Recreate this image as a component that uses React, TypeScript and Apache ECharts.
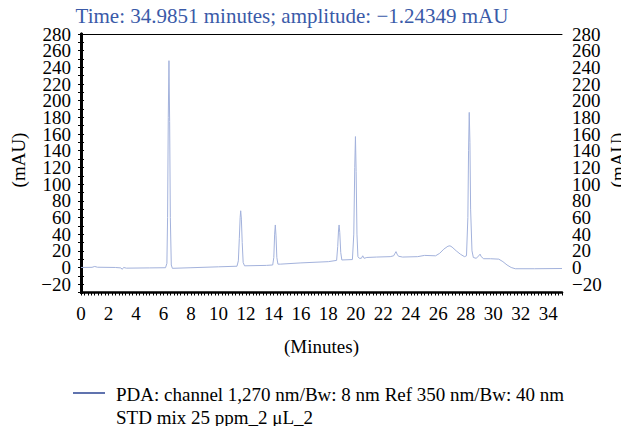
import React, { useEffect, useRef } from "react";
import * as echarts from "echarts";

const titleText = "Time: 34.9851 minutes; amplitude: \u22121.24349 mAU";
const xName = "(Minutes)";
const yName = "(mAU)";
const legendLine1 = "PDA: channel 1,270 nm/Bw: 8 nm Ref 350 nm/Bw: 40 nm";
const legendLine2 = "STD mix 25 ppm_2 \u03bcL_2";

// retention time (minutes)
const times = [
  0, 0.8, 1.0, 1.2, 2.5, 2.9, 3.0, 3.1, 3.3, 5.0,
  6.15, 6.25, 6.3, 6.35, 6.4, 6.45, 6.5, 6.57, 6.65, 8.0,
  10.0, 11.35, 11.45, 11.52, 11.58, 11.62, 11.67, 11.73, 11.8, 11.9,
  13.5, 13.95, 14.03, 14.09, 14.14, 14.19, 14.25, 14.33, 14.5, 16.0,
  18.0, 18.6, 18.68, 18.74, 18.78, 18.83, 18.9, 18.98, 19.75, 19.85,
  19.92, 19.97, 20.02, 20.08, 20.15, 20.25, 20.4, 20.5, 20.6, 20.8,
  21.5, 22.5, 22.75, 22.85, 22.92, 23.0, 23.1, 23.4, 24.5, 25.0,
  25.8, 26.1, 26.4, 26.7, 26.85, 27.0, 27.3, 27.6, 27.9, 28.05,
  28.15, 28.2, 28.25, 28.3, 28.35, 28.45, 28.55, 28.75, 28.95, 29.04,
  29.12, 29.3, 29.8, 30.4, 30.7, 31.0, 31.3, 31.6, 33.0, 35.0,
];
// amplitude (mAU)
const amplitude = [
  0, 0.2, 1.2, 0.3, 0, -0.5, -2.2, 0, -0.8, -0.5,
  -0.3, 5, 60, 180, 248, 175, 60, 3, -1, -0.3,
  0.8, 1.5, 8, 35, 60, 68, 58, 30, 6, 2,
  2.5, 3, 12, 40, 51, 38, 12, 4, 4, 5.5,
  7, 8.5, 25, 45, 51, 42, 18, 9, 9.5, 40,
  120, 157, 115, 40, 13, 11, 11, 14, 11, 12,
  12.5, 13, 14, 17, 19, 16, 13.5, 12.5, 13, 14.5,
  14, 17, 22, 25.5, 26, 24.5, 20, 16, 13, 14,
  60, 140, 186, 150, 70, 20, 12, 11, 14, 16,
  13, 10.5, 10.5, 10, 7, 3, 0, -1.5, -1.5, -1.2,
];

const xMin = 0;
const xMax = 35;
const yMin = -30;
const yMax = 280;

const FONT = "'Liberation Serif', 'DejaVu Serif', serif";
const FS = 19;

function yLabel(v: number): string {
  if (Math.round(v) % 20 !== 0) return "";
  return v < 0 ? "\u2212" + Math.abs(v) : String(v);
}

export default function App() {
  const ref = useRef<HTMLDivElement>(null);
  useEffect(() => {
    if (!ref.current) return;
    const chart = echarts.init(ref.current, null, { renderer: "svg" });
    const data = times.map((t, i) => [t, amplitude[i]]);
    const yAxisCommon = {
      type: "value",
      min: yMin,
      max: yMax,
      interval: 10,
      splitLine: { show: false },
      axisLine: { show: true, lineStyle: { color: "#000", width: 3 } },
      axisTick: { show: true, length: 3, inside: false, lineStyle: { color: "#000", width: 1 } },
      axisLabel: {
        formatter: yLabel,
        fontFamily: FONT,
        fontSize: FS,
        color: "#000",
        margin: 10,
      },
    };
    chart.setOption({
      animation: false,
      backgroundColor: "#fff",
      grid: { left: 81, right: 67, top: 34, bottom: 141.5, containLabel: false },
      xAxis: [
        {
          type: "value",
          min: xMin,
          max: xMax,
          interval: 1,
          position: "bottom",
          splitLine: { show: false },
          axisLine: { show: true, onZero: false, lineStyle: { color: "#000", width: 2.5 } },
          axisTick: { show: true, length: 3, lineStyle: { color: "#000", width: 1 } },
          minorTick: { show: true, splitNumber: 4, length: 3, lineStyle: { color: "#000", width: 1 } },
          axisLabel: {
            formatter: (v: number) => (Math.round(v) % 2 === 0 && v <= 34 ? String(v) : ""),
            fontFamily: FONT,
            fontSize: FS,
            color: "#000",
            margin: 11,
          },
          name: xName,
          nameLocation: "middle",
          nameGap: 44,
          nameTextStyle: { fontFamily: FONT, fontSize: FS, color: "#000" },
        },
        {
          type: "value",
          min: xMin,
          max: xMax,
          position: "top",
          splitLine: { show: false },
          axisLine: { show: true, onZero: false, lineStyle: { color: "#000", width: 1 } },
          axisTick: { show: false },
          axisLabel: { show: false },
        },
      ],
      yAxis: [
        { ...yAxisCommon, position: "left" },
        { ...yAxisCommon, position: "right" },
      ],
      series: [
        {
          type: "line",
          name: legendLine1,
          xAxisIndex: 0,
          yAxisIndex: 0,
          data,
          showSymbol: false,
          symbol: "none",
          lineStyle: { color: "#a3b2dc", width: 1 },
        },
      ],
      graphic: [
        {
          type: "text",
          x: 292,
          y: 16,
          style: {
            text: titleText,
            fontFamily: FONT,
            fontSize: 21,
            fill: "#3a5aa8",
            align: "center",
            verticalAlign: "middle",
          },
        },
        {
          type: "text",
          x: 18,
          y: 160,
          rotation: Math.PI / 2,
          style: {
            text: yName,
            fontFamily: FONT,
            fontSize: FS,
            fill: "#000",
            align: "center",
            verticalAlign: "middle",
          },
        },
        {
          type: "text",
          x: 617,
          y: 160,
          rotation: Math.PI / 2,
          style: {
            text: yName,
            fontFamily: FONT,
            fontSize: FS,
            fill: "#000",
            align: "center",
            verticalAlign: "middle",
          },
        },
        {
          type: "line",
          shape: { x1: 73, y1: 393, x2: 105, y2: 393 },
          style: { stroke: "#2b4593", lineWidth: 1.5 },
        },
        {
          type: "text",
          x: 116,
          y: 394,
          style: {
            text: legendLine1,
            fontFamily: FONT,
            fontSize: FS,
            fill: "#000",
            align: "left",
            verticalAlign: "middle",
          },
        },
        {
          type: "text",
          x: 116,
          y: 417,
          style: {
            text: legendLine2,
            fontFamily: FONT,
            fontSize: FS,
            fill: "#000",
            align: "left",
            verticalAlign: "middle",
          },
        },
      ],
    });
    return () => chart.dispose();
  }, []);
  return <div ref={ref} style={{ width: 629, height: 434, margin: -8 }} />;
}
